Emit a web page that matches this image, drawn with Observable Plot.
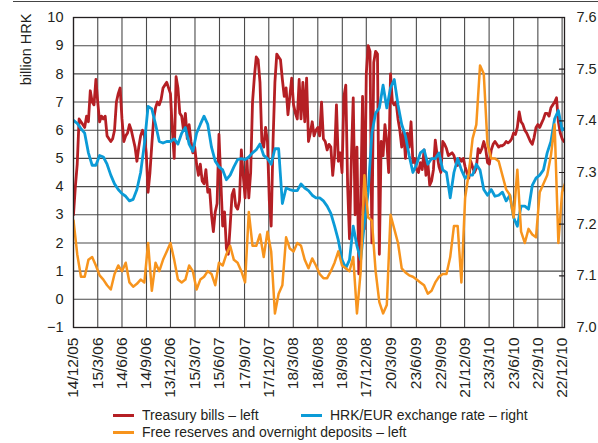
<!DOCTYPE html>
<html><head><meta charset="utf-8">
<script src="https://cdn.jsdelivr.net/npm/d3@7"></script>
<script src="https://cdn.jsdelivr.net/npm/@observablehq/plot@0.6"></script>
<style>
body{margin:0;background:#fff;font-family:"Liberation Sans",Arial,sans-serif;color:#231f20;}
#wrap{position:relative;width:598px;height:443px;overflow:hidden;background:#fff;}
#chart{position:absolute;left:0;top:0;}
#topline{position:absolute;left:13px;top:1px;width:585px;height:0;border-top:1.5px solid #444;}
.lg{position:absolute;font-size:15.5px;line-height:18px;white-space:nowrap;color:#231f20;transform:scaleX(0.9);transform-origin:0 50%;}
.sw{position:absolute;width:21px;height:3px;}
</style></head><body>
<div id="wrap"><div id="chart"></div><div id="topline"></div><div id="legend"></div></div>
<script>
// ---- data ----
const seriesNames = ["Treasury bills – left", "HRK/EUR exchange rate – right", "Free reserves and overnight deposits – left"];
const seriesColors = ["#b51f24", "#0b9bd7", "#f7941d"];
const tickLabels = ["2005-12-14","2006-03-15","2006-06-14","2006-09-14","2006-12-13","2007-03-15","2007-06-15","2007-09-17","2007-12-17","2008-03-18","2008-06-18","2008-09-18","2008-12-17","2009-03-20","2009-06-23","2009-09-22","2009-12-21","2010-03-23","2010-06-23","2010-09-22","2010-12-22"];
const leftTicks = [-1,0,1,2,3,4,5,6,7,8,9,10];
const rightTicks = [7.0,7.1,7.2,7.3,7.4,7.5,7.6];
const firstDate = "2005-12-14";
const lastDate = "2010-12-31";
// weekly observations (billion HRK)
const treasuryBills = [3.0,4.0,4.8,6.4,6.3,6.2,6.1,6.5,6.3,7.4,
 7.0,6.9,7.8,7.0,6.3,6.5,6.4,6.5,5.8,5.7,
 5.6,5.7,6.0,7.0,7.3,7.5,6.4,5.6,5.8,5.9,
 6.2,6.0,5.7,5.4,4.9,5.4,5.8,6.0,5.8,5.2,
 3.8,4.5,5.5,6.4,6.8,7.0,6.9,7.1,7.5,7.6,
 7.7,7.5,7.3,6.0,5.0,7.9,7.5,6.6,6.5,6.0,
 6.6,5.7,6.2,5.6,5.2,5.4,4.8,4.4,4.8,4.2,
 4.1,4.6,3.8,3.9,3.0,2.4,3.1,3.4,5.85,4.2,
 2.6,3.1,1.8,1.6,2.6,3.7,3.9,3.3,3.2,3.5,
 5.3,4.4,3.6,5.0,3.6,4.5,7.0,7.9,8.6,8.5,
 7.7,5.6,5.4,6.1,5.6,3.5,2.6,5.6,7.7,8.7,
 8.6,8.5,7.8,7.2,7.5,6.55,7.2,7.85,6.9,6.6,
 6.4,7.8,6.4,7.7,6.3,7.85,5.6,5.9,6.3,5.8,
 6.0,6.1,5.8,7.0,5.7,5.6,5.3,5.5,5.4,4.4,
 5.1,6.9,4.9,5.2,4.5,7.2,7.6,4.0,2.15,5.0,
 7.15,3.0,5.4,0.9,3.5,7.2,2.5,8.0,9.0,8.8,
 2.0,8.4,8.8,8.7,1.6,5.6,5.1,6.2,5.6,4.5,
 8.0,7.0,6.9,7.0,6.4,6.0,5.4,6.0,5.0,5.9,
 5.4,6.3,4.85,5.0,4.6,4.5,4.85,4.6,5.3,4.4,
 4.85,4.05,4.2,4.6,5.65,5.1,4.7,4.5,5.6,5.5,
 5.35,5.1,5.15,5.2,5.1,4.85,4.75,5.0,4.9,5.0,
 4.7,4.5,4.3,4.9,4.7,4.5,4.65,5.35,5.2,5.35,
 5.6,5.35,4.85,4.8,5.3,5.5,5.6,5.5,5.4,5.45,
 5.45,5.5,5.6,5.55,5.6,5.7,5.9,5.85,6.1,6.65,
 6.3,6.2,6.0,5.9,5.75,5.6,5.5,5.75,6.1,6.2,
 6.1,6.25,6.4,6.6,6.6,6.5,6.8,6.9,7.0,7.15,
 6.3,5.9,5.7,5.6,5.6];
// fortnightly observations
const hrkEur = [7.401,7.395,7.385,7.376,7.338,7.314,7.314,7.333,7.330,7.316,
 7.295,7.278,7.267,7.259,7.254,7.245,7.248,7.267,7.300,7.355,
 7.428,7.423,7.393,7.360,7.357,7.360,7.360,7.365,7.355,7.376,
 7.387,7.355,7.341,7.376,7.393,7.409,7.393,7.349,7.322,7.311,
 7.305,7.286,7.295,7.311,7.325,7.327,7.325,7.330,7.338,7.344,
 7.355,7.333,7.327,7.316,7.346,7.346,7.240,7.270,7.267,7.265,
 7.265,7.278,7.270,7.265,7.256,7.251,7.251,7.245,7.235,7.221,
 7.196,7.169,7.131,7.115,7.131,7.196,7.158,7.131,7.202,7.262,
 7.376,7.415,7.425,7.469,7.425,7.464,7.480,7.431,7.393,7.371,
 7.333,7.300,7.316,7.338,7.344,7.316,7.327,7.327,7.338,7.305,
 7.300,7.251,7.300,7.327,7.305,7.289,7.295,7.295,7.316,7.305,
 7.267,7.256,7.267,7.254,7.256,7.262,7.245,7.256,7.213,7.196,
 7.235,7.235,7.229,7.275,7.289,7.295,7.305,7.338,7.360,7.404,
 7.420,7.382,7.387];
const freeReserves = [2.8,1.6,0.8,0.8,1.4,1.5,1.2,0.85,0.7,0.5,
 0.35,0.9,1.2,1.0,1.3,0.6,0.45,0.55,0.7,0.6,
 2.0,0.3,1.3,1.0,1.4,1.7,2.0,1.4,0.7,0.6,
 0.7,1.2,1.0,0.35,0.7,0.8,1.0,0.9,0.5,1.3,
 1.2,1.6,1.9,1.4,1.3,1.0,0.6,3.1,1.9,1.9,
 2.3,1.5,2.4,1.7,-0.5,0.2,0.5,2.2,1.8,1.7,
 2.0,1.9,1.4,1.1,1.45,1.2,0.9,0.75,0.75,1.0,
 1.3,1.7,1.2,1.1,1.0,1.5,-0.5,1.0,4.4,2.9,
 2.8,1.0,-0.1,-0.5,-0.2,3.0,2.5,2.0,1.1,0.95,
 0.85,0.8,0.7,0.6,0.5,0.2,0.3,0.6,0.8,0.9,
 0.9,1.5,2.6,2.6,0.6,3.6,4.5,5.7,6.2,8.3,
 8.0,5.5,5.0,5.0,4.9,4.4,3.9,3.7,2.9,4.6,
 2.4,2.0,2.5,2.3,2.2,3.8,4.1,4.4,5.1,6.2,
 2.0,3.8,4.2];

// ---- build ----
const DAY = 86400000;
const t0 = Date.parse(firstDate);
const series = (vals, step) => vals.map((v, i) => ({date: new Date(t0 + i * step * DAY), v}));
const redData = series(treasuryBills, 7);
const blueData = series(hrkEur, 14);
const orangeData = series(freeReserves, 14);
const tickDates = tickLabels.map(s => new Date(s));
const fmt = d => `${d.getUTCDate()}/${d.getUTCMonth() + 1}/${String(d.getUTCFullYear()).slice(2)}`;
// right axis (7.0–7.6) mapped onto left scale (−1–10)
const toLeft = r => -1 + (r - 7) * 11 / 0.6;
const fromLeft = v => 7 + (v + 1) * 0.6 / 11;
const tickShape = {draw(ctx, l) { ctx.moveTo(0, 0); ctx.lineTo(0, -l); }};

const chart = Plot.plot({
  width: 598, height: 406,
  marginTop: 17, marginBottom: 79, marginLeft: 73, marginRight: 34,
  style: {fontFamily: '"Liberation Sans", Arial, sans-serif', fontSize: "14.5px", color: "#231f20", background: "white"},
  x: {type: "utc", domain: [new Date(firstDate), new Date(lastDate)]},
  y: {domain: [-1, 10]},
  marks: [
    Plot.ruleY(leftTicks, {stroke: "#4a4a4a", strokeWidth: 1.1}),
    Plot.ruleX(tickDates, {stroke: "#4a4a4a", strokeWidth: 1.1}),
    Plot.line(redData, {x: "date", y: "v", stroke: seriesColors[0], strokeWidth: 2.8, strokeLinejoin: "round", clip: true}),
    Plot.line(blueData, {x: "date", y: d => toLeft(d.v), stroke: seriesColors[1], strokeWidth: 2.8, strokeLinejoin: "round", clip: true}),
    Plot.line(orangeData, {x: "date", y: "v", stroke: seriesColors[2], strokeWidth: 2.5, strokeLinejoin: "round", clip: true}),
    Plot.frame({stroke: "#231f20", strokeWidth: 1.3}),
    Plot.axisY(leftTicks, {anchor: "left", tickSize: 0, tickPadding: 10, label: null}),
    Plot.axisY(rightTicks.map(toLeft), {anchor: "right", tickSize: 0, tickPadding: 12, tickFormat: v => fromLeft(v).toFixed(1), label: null}),
    Plot.vector(rightTicks.map(toLeft), {y: d => d, frameAnchor: "right", rotate: -90, length: 5, anchor: "start", shape: tickShape, stroke: "#231f20", strokeWidth: 1.2}),
    Plot.axisX(tickDates, {tickSize: 0, tickPadding: 10, tickRotate: -90, tickFormat: fmt, fontSize: 15.5, label: null}),
    Plot.text(["billion HRK"], {frameAnchor: "top-left", dx: -53, dy: -4, rotate: -90, textAnchor: "end", fontSize: 14.5, fill: "#231f20"})
  ]
});
document.getElementById("chart").appendChild(chart);

// legend
const legendPos = [{left: 113, top: 415}, {left: 301, top: 415}, {left: 113, top: 432}];
const lg = document.getElementById("legend");
seriesNames.forEach((name, i) => {
  const p = legendPos[i];
  const sw = document.createElement("div");
  sw.className = "sw"; sw.style.left = p.left + "px"; sw.style.top = (p.top - 1.5) + "px"; sw.style.background = seriesColors[i];
  const tx = document.createElement("div");
  tx.className = "lg"; tx.style.left = (p.left + 29) + "px"; tx.style.top = (p.top - 9) + "px"; tx.textContent = name;
  lg.appendChild(sw); lg.appendChild(tx);
});
</script>
</body></html>
